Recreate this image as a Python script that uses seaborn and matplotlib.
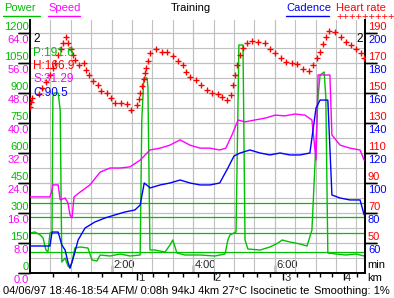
import matplotlib
matplotlib.use("Agg")
import matplotlib.pyplot as plt
import matplotlib.transforms as mtransforms
from matplotlib.lines import Line2D
from matplotlib.ticker import MultipleLocator
import seaborn as sns

# ---------------- data (time in minutes) ----------------
hr_t = [0.00, 0.02, 0.05, 0.22, 0.29, 0.39, 0.49, 0.56, 0.61, 0.69, 0.76, 0.81, 0.88, 0.93, 1.00,
        1.05, 1.10, 1.20, 1.33, 1.37, 1.45, 1.55, 1.67, 1.74, 1.89, 1.99, 2.08, 2.23, 2.38, 2.48,
        2.62, 2.66, 2.70, 2.75, 2.80, 2.82, 2.84, 2.90, 2.95, 3.08, 3.23, 3.37, 3.51, 3.63, 3.76,
        3.83, 3.93, 4.08, 4.20, 4.33, 4.47, 4.60, 4.71, 4.83, 4.93, 4.98, 5.02, 5.07, 5.15, 5.22,
        5.32, 5.44, 5.59, 5.76, 5.88, 6.00, 6.14, 6.27, 6.41, 6.55, 6.70, 6.85, 6.94, 7.03, 7.11,
        7.19, 7.25, 7.34, 7.48, 7.62, 7.75, 7.87, 7.98, 8.11, 8.19]
hr_v = [140.7, 144.0, 146.7, 149.3, 153.3, 157.3, 162.0, 166.7, 170.0, 175.3, 179.3, 183.3, 187.3, 183.3, 179.3,
        175.3, 172.0, 168.7, 169.8, 165.3, 162.0, 158.0, 155.1, 151.3, 150.2, 146.5, 143.1, 143.1, 142.5, 138.7,
        141.8, 146.0, 149.8, 154.5, 159.1, 163.1, 166.5, 171.3, 176.5, 179.1, 177.1, 177.1, 174.7, 171.3, 168.7,
        164.2, 160.9, 158.5, 155.1, 151.8, 150.0, 149.1, 147.3, 145.3, 148.7, 155.3, 162.0, 168.7, 175.3, 180.0,
        183.3, 184.7, 184.0, 183.1, 179.1, 176.5, 173.1, 170.9, 170.2, 169.3, 166.0, 164.7, 168.7, 173.1, 177.5,
        182.5, 187.5, 191.3, 190.5, 187.5, 184.2, 182.0, 179.1, 176.5, 173.1]

pw_t = [0.00, 0.12, 0.25, 0.32, 0.39, 0.44, 0.49, 0.54, 0.56, 0.59, 0.69, 0.74, 0.78, 0.86, 0.93, 0.98,
        1.03, 1.10, 1.23, 1.42, 1.52, 1.64, 1.72, 1.96, 2.21, 2.45, 2.70, 2.74, 2.79, 2.87, 2.89, 2.94,
        3.06, 3.31, 3.43, 3.50, 3.60, 3.80, 4.17, 4.53, 4.78, 4.85, 4.90, 5.05, 5.12, 5.22, 5.27,
        5.34, 5.64, 5.88, 6.08, 6.18, 6.37, 6.62, 6.79, 6.91, 7.06, 7.11, 7.21, 7.25, 7.30, 7.50,
        7.74, 7.99, 8.19]
pw_w = [200, 205, 190, 175, 115, 105, 200, 205, 880, 900, 900, 815, 55, 75, 35, 25,
        55, 125, 130, 125, 65, 60, 90, 85, 95, 85, 90, 765, 975, 975, 930, 115,
        115, 105, 140, 165, 100, 90, 90, 85, 95, 165, 190, 205, 1140, 1140, 165,
        120, 115, 130, 150, 165, 155, 145, 135, 215, 880, 990, 1005, 880, 100, 95,
        90, 95, 85]

sp_t = [0.00, 0.49, 0.54, 0.56, 0.69, 0.74, 0.86, 0.93, 0.98, 1.03, 1.08, 1.23, 1.47, 1.72, 1.96,
        2.21, 2.45, 2.70, 2.94, 3.19, 3.43, 3.68, 3.92, 4.17, 4.41, 4.65, 4.80, 4.95, 5.10,
        5.27, 5.51, 5.76, 6.01, 6.25, 6.49, 6.74, 6.91, 7.01, 7.06, 7.35, 7.40, 7.60, 7.84, 8.09, 8.19]
sp_v = [20.3, 20.3, 22.1, 23.5, 23.5, 19.5, 20.0, 18.7, 15.5, 14.7, 20.3, 21.6, 23.5, 26.9, 28.0,
        28.0, 28.3, 30.1, 32.8, 33.3, 34.1, 35.5, 34.1, 33.3, 33.3, 32.8, 33.3, 36.8, 40.8,
        40.3, 40.8, 41.3, 42.1, 41.9, 42.4, 42.1, 40.8, 30.1, 52.8, 52.8, 36.8, 34.1, 33.3, 32.8, 30.1]

cd_t = [0.00, 0.49, 0.54, 0.69, 0.78, 0.86, 0.93, 0.98, 1.03, 1.08, 1.18, 1.35, 1.59, 1.84, 2.08,
        2.33, 2.57, 2.70, 2.80, 2.89, 2.94, 3.19, 3.43, 3.68, 3.92, 4.17, 4.41, 4.65, 4.85, 5.00,
        5.15, 5.39, 5.64, 5.88, 6.13, 6.37, 6.62, 6.86, 7.01, 7.11, 7.30, 7.40, 7.60, 7.84, 8.09, 8.19]
cd_v = [58.0, 58.0, 67.3, 67.3, 58.7, 55.3, 47.3, 43.3, 47.3, 52.0, 62.0, 70.0, 74.0, 76.7, 78.7,
        80.7, 82.0, 85.3, 100.0, 98.0, 96.7, 98.7, 100.0, 102.0, 100.0, 98.7, 98.7, 100.0, 110.0, 118.0,
        120.0, 122.0, 120.0, 118.7, 120.0, 118.7, 118.7, 120.0, 150.0, 155.3, 155.3, 92.0, 90.0, 88.7, 88.7, 78.7]

km_major_t = [2.63, 4.50, 6.21, 7.70]
km_major_lab = ["1", "2", "3", "4"]
km_minor_t = [0.56, 1.18, 1.76, 2.23, 3.01, 3.38, 3.75, 4.12, 4.88, 5.22, 5.56, 5.88,
              6.54, 6.84, 7.11, 7.40, 8.01]
time_ticks = [2, 4, 6]
time_labels = ["2:00", "4:00", "6:00"]

power_ticks = [0, 150, 300, 450, 600, 750, 900, 1050, 1200]
speed_ticks = [0.0, 8.0, 16.0, 24.0, 32.0, 40.0, 48.0, 56.0, 64.0]
hr_ticks = [50, 70, 90, 110, 130, 150, 170, 190]
cad_ticks = [60, 80, 100, 120, 140, 160, 180, 200]
zone_lines = [105, 200, 280, 350]

stats = [("P:191.6", "#00c000"), ("H:166.9", "#ff0000"), ("S:31.29", "#ff00ff"), ("C:90.5", "#0000ff")]

# ---------------- style ----------------
sns.set_style("white")
plt.rcParams['font.family'] = ['Liberation Sans', 'DejaVu Sans']
FS = 8
GREEN, MAG, RED, BLUE, GRID = '#00c000', '#ff00ff', '#ff0000', '#0000ff', '#c0c0c0'

W, H = 394, 298
fig = plt.figure(figsize=(W / 100, H / 100), dpi=100)
fig.patch.set_facecolor('white')
L, R, T, B = 30, 365, 20, 273
PX = 0.72  # points per pixel

ax = fig.add_axes([L / W, 1 - B / H, (R - L) / W, (B - T) / H])
tmax = (R - L) / 40.8
scale = (B - T) / 240.0
ax.set_xlim(0, tmax)
ax.set_ylim(0, 1200 * scale)


def off(dx, dy):
    return mtransforms.ScaledTranslation(dx / 100, dy / 100, fig.dpi_scale_trans)


# grid
ax.xaxis.set_minor_locator(MultipleLocator(0.5))
ax.yaxis.set_minor_locator(MultipleLocator(75))
ax.xaxis.remove_overlapping_locs = False
ax.yaxis.remove_overlapping_locs = False
ax.grid(True, which='both', color=GRID, lw=0.8)
ax.set_axisbelow(True)
ax.spines['top'].set_visible(False)
for s in ['left', 'right', 'bottom']:
    ax.spines[s].set_color('black')
    ax.spines[s].set_linewidth(1.4)

# zone lines (power)
for z in zone_lines:
    ax.axhline(z, color=GREEN, lw=0.9, zorder=1)

# power
sns.lineplot(x=pw_t, y=pw_w, ax=ax, color=GREEN, lw=1, legend=False)
ax.set_xlabel(''); ax.set_ylabel('')

# left ticks: power
ax.set_yticks(power_ticks)
ax.set_yticklabels([str(v) for v in power_ticks], color=GREEN, fontsize=FS)
ax.tick_params(axis='y', which='major', direction='out', length=12 * PX, width=1, color='black',
               pad=-11 * PX, left=True, right=False)
ax.tick_params(which='minor', length=0)
for lab in ax.get_yticklabels():
    lab.set_va('bottom')
    lab.set_transform(lab.get_transform() + off(0, 1))

# time ticks
ax.set_xticks(time_ticks)
ax.set_xticklabels(time_labels, fontsize=FS)
ax.tick_params(axis='x', which='major', direction='in', length=8 * PX, width=1, color='black',
               pad=-14 * PX, bottom=True)
for lab in ax.get_xticklabels():
    lab.set_ha('left')
    lab.set_transform(lab.get_transform() + off(2, -1))

# speed axis
ax_s = ax.twinx()
ax_s.set_ylim(0, 64 * scale)
sns.lineplot(x=sp_t, y=sp_v, ax=ax_s, color=MAG, lw=1, legend=False)
ax_s.yaxis.tick_left()
ax_s.set_yticks(speed_ticks)
ax_s.set_yticklabels([f"{v:.1f}" for v in speed_ticks], color=MAG, fontsize=FS)
ax_s.tick_params(axis='y', direction='out', length=12 * PX, width=1, color='black', pad=-11 * PX)
for lab in ax_s.get_yticklabels():
    lab.set_va('top')
    lab.set_transform(lab.get_transform() + off(0, -2))

# cadence axis
ax_c = ax.twinx()
ax_c.set_ylim(40, 40 + 160 * scale)
sns.lineplot(x=cd_t, y=cd_v, ax=ax_c, color=BLUE, lw=1, legend=False)
ax_c.set_yticks(cad_ticks)
ax_c.set_yticklabels([str(v) for v in cad_ticks], color=BLUE, fontsize=FS)
ax_c.tick_params(axis='y', direction='out', length=12 * PX, width=1, color='black', pad=-9 * PX)
for lab in ax_c.get_yticklabels():
    lab.set_va('top')
    lab.set_transform(lab.get_transform() + off(0, -2))

# heart rate axis
ax_h = ax.twinx()
ax_h.set_ylim(30, 30 + 160 * scale)
sns.scatterplot(x=hr_t, y=hr_v, ax=ax_h, color=RED, marker='+', s=24, linewidth=1.0, legend=False)
ax_h.set_yticks(hr_ticks)
ax_h.set_yticklabels([str(v) for v in hr_ticks], color=RED, fontsize=FS)
ax_h.tick_params(axis='y', direction='out', length=12 * PX, width=1, color='black', pad=-9 * PX)
for lab in ax_h.get_yticklabels():
    lab.set_va('bottom')
    lab.set_transform(lab.get_transform() + off(0, 1))

# km axis
ax_k = ax.twiny()
ax_k.set_xlim(0, tmax)
ax_k.xaxis.tick_bottom()
ax_k.set_xticks(km_major_t)
ax_k.set_xticklabels(km_major_lab, fontsize=FS)
ax_k.set_xticks(km_minor_t, minor=True)
ax_k.tick_params(axis='x', which='major', direction='out', length=7 * PX, width=1, color='black', pad=-7 * PX)
ax_k.tick_params(axis='x', which='minor', direction='out', length=4 * PX, width=1, color='black')
for lab in ax_k.get_xticklabels():
    lab.set_ha('left')
    lab.set_transform(lab.get_transform() + off(1, 0))

for a in (ax_s, ax_c, ax_h, ax_k):
    for s in a.spines.values():
        s.set_visible(False)
    a.set_xlabel(''); a.set_ylabel('')
    a.grid(False)

# stats inside plot
fig.text(33 / W, 1 - 39 / H, '2', fontsize=FS + 0.5, va='center', ha='left', color='black')
fig.text(363 / W, 1 - 39 / H, '2', fontsize=FS + 0.5, va='center', ha='right', color='black')
for i, (txt, col) in enumerate(stats):
    fig.text(33 / W, 1 - (52.5 + 13.5 * i) / H, txt, fontsize=FS + 0.5, va='center', ha='left', color=col)


# header
def header(x, txt, col, ha='left'):
    return fig.text(x / W, 1 - 8 / H, txt, fontsize=FS, color=col, ha=ha, va='center')


header(4, 'Power', GREEN)
fig.add_artist(Line2D([3 / W, 40 / W], [1 - 15.5 / H] * 2, color=GREEN, lw=1))
header(48, 'Speed', MAG)
fig.add_artist(Line2D([48 / W, 80 / W], [1 - 15.5 / H] * 2, color=MAG, lw=1))
header(191, 'Training', 'black', ha='center')
header(286, 'Cadence', BLUE)
fig.add_artist(Line2D([286 / W, 329 / W], [1 - 15.5 / H] * 2, color=BLUE, lw=1))
header(336, 'Heart rate', RED)
fig.text(336 / W, 1 - 17 / H, '+++++++++', fontsize=FS, color=RED, ha='left', va='center')

fig.text(367 / W, 1 - 265 / H, 'min', fontsize=FS, color='black', va='center')
fig.text(367 / W, 1 - 278 / H, 'km', fontsize=FS, color='black', va='center')
fig.text(3 / W, 1 - 291 / H, '04/06/97 18:46-18:54 AFM/ 0:08h 94kJ 4km 27°C Isocinetic te',
         fontsize=FS, color='black', va='center')
fig.text(390 / W, 1 - 291 / H, 'Smoothing: 1%', fontsize=FS, color='black', va='center', ha='right')

fig.savefig('out.png', dpi=100, facecolor='white')
